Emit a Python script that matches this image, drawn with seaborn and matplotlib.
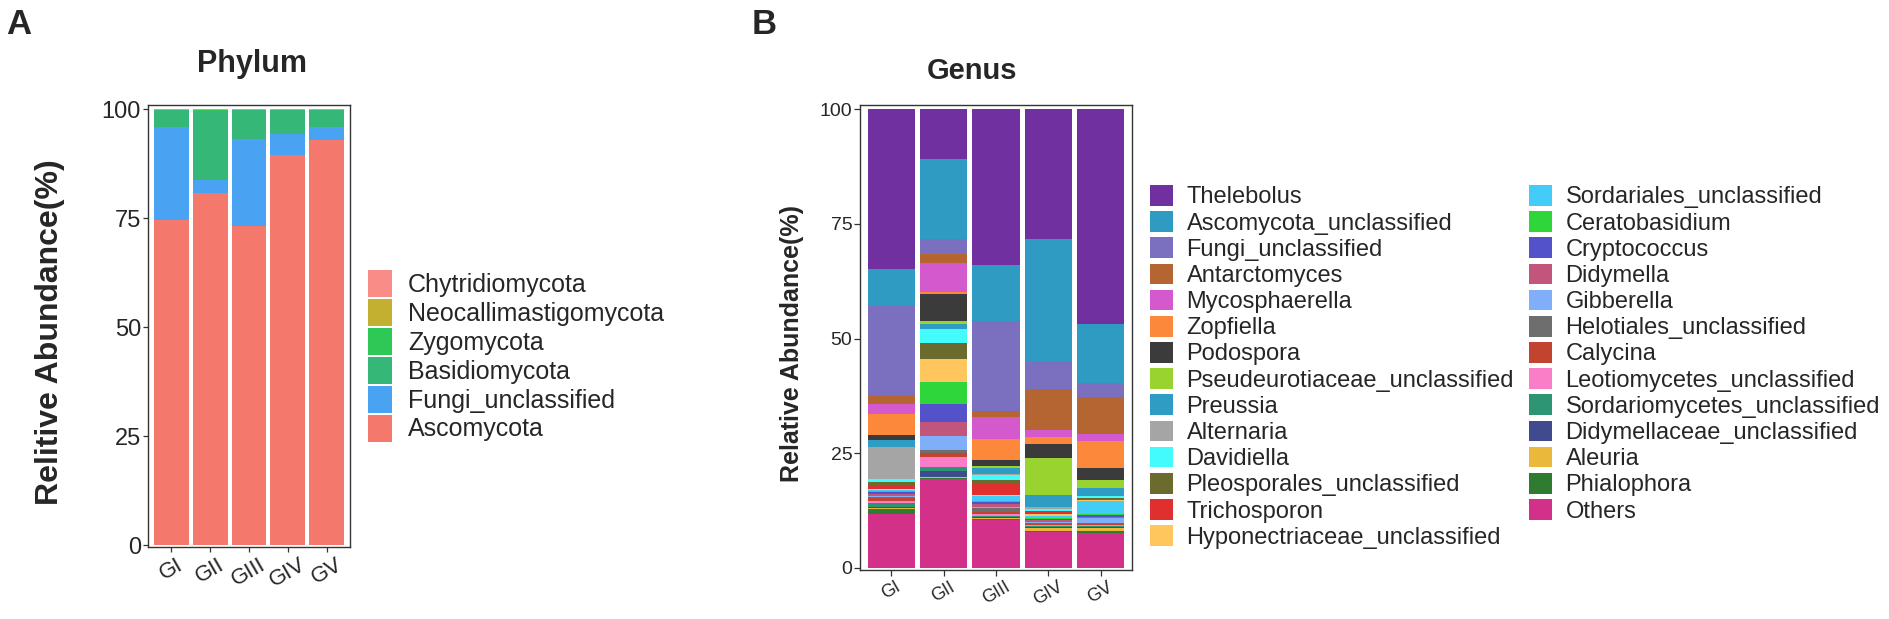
import matplotlib
matplotlib.use("Agg")
import matplotlib.pyplot as plt
import seaborn as sns
import numpy as np
import pandas as pd
from matplotlib.patches import Patch

# ---------------- data ----------------
groups = ["GI", "GII", "GIII", "GIV", "GV"]

# Phylum (legend order = stack order from the top)
phyla = ["Chytridiomycota", "Neocallimastigomycota", "Zygomycota",
         "Basidiomycota", "Fungi_unclassified", "Ascomycota"]
phylum_colors = ["#FA8C87", "#C4B030", "#2DC856", "#35B778", "#4AA3F2", "#F4786C"]
chytridiomycota = [0.05, 0.05, 0.05, 0.05, 0.05]
neocallimastigomycota = [0.05, 0.2, 0.1, 0.05, 0.05]
zygomycota = [0.1, 0.05, 0.05, 0.1, 0.1]
basidiomycota = [3.8, 15.9, 6.7, 5.4, 3.8]
fungi_unclassified_p = [21.5, 3.1, 19.9, 4.9, 3.0]
ascomycota = [74.5, 80.7, 73.2, 89.5, 93.0]

# Genus (legend order = stack order from the top)
genera = ["Thelebolus", "Ascomycota_unclassified", "Fungi_unclassified", "Antarctomyces",
          "Mycosphaerella", "Zopfiella", "Podospora", "Pseudeurotiaceae_unclassified",
          "Preussia", "Alternaria", "Davidiella", "Pleosporales_unclassified",
          "Trichosporon", "Hyponectriaceae_unclassified", "Sordariales_unclassified",
          "Ceratobasidium", "Cryptococcus", "Didymella", "Gibberella",
          "Helotiales_unclassified", "Calycina", "Leotiomycetes_unclassified",
          "Sordariomycetes_unclassified", "Didymellaceae_unclassified", "Aleuria",
          "Phialophora", "Others"]
genus_colors = ["#7030A0", "#2F9BC2", "#7B6FBF", "#B56532", "#D459CC", "#FB883B",
                "#3B3B3B", "#98D32F", "#2E9CC3", "#A5A5A5", "#44FBFB", "#6B6B2D",
                "#E02F2F", "#FFC65D", "#43CCF7", "#2FD63A", "#5352CB", "#C2557B",
                "#80AEF8", "#6E6E6E", "#C2432F", "#FA7DC8", "#2E9574", "#404A8E",
                "#EAB83B", "#2F7C30", "#D33189"]
thelebolus = [34.9, 10.9, 34.0, 28.2, 46.9]
ascomycota_unclassified = [8.0, 17.4, 12.2, 26.7, 12.7]
fungi_unclassified_g = [19.6, 3.3, 19.6, 6.0, 3.1]
antarctomyces = [1.8, 1.9, 1.3, 9.0, 8.1]
mycosphaerella = [2.2, 6.4, 4.8, 1.5, 1.5]
zopfiella = [4.6, 0.4, 4.5, 1.6, 5.9]
podospora = [1.0, 5.9, 1.4, 3.0, 2.6]
pseudeurotiaceae_unclassified = [0.1, 0.5, 0.3, 8.0, 1.8]
preussia = [1.4, 1.1, 1.4, 2.8, 1.6]
alternaria = [6.9, 0.1, 0.2, 0.3, 0.2]
davidiella = [0.8, 3.0, 1.2, 0.4, 0.3]
pleosporales_unclassified = [0.6, 3.5, 0.6, 0.3, 0.2]
trichosporon = [0.9, 0.1, 2.6, 0.4, 0.3]
hyponectriaceae_unclassified = [0.2, 4.9, 0.3, 0.5, 0.3]
sordariales_unclassified = [0.2, 0.1, 1.0, 0.5, 2.8]
ceratobasidium = [0.2, 4.7, 0.3, 0.2, 0.2]
cryptococcus = [0.4, 4.0, 0.3, 0.2, 0.3]
didymella = [0.4, 3.0, 0.6, 0.3, 0.3]
gibberella = [0.3, 3.0, 0.3, 0.3, 1.0]
helotiales_unclassified = [0.3, 0.7, 1.0, 0.2, 0.3]
calycina = [0.7, 1.0, 0.4, 0.3, 0.2]
leotiomycetes_unclassified = [0.3, 2.0, 0.3, 0.2, 0.2]
sordariomycetes_unclassified = [1.0, 1.0, 0.2, 0.2, 0.2]
didymellaceae_unclassified = [0.2, 1.3, 0.4, 0.2, 0.2]
aleuria = [0.1, 0.1, 0.1, 0.6, 0.8]
phialophora = [1.1, 0.2, 0.2, 0.2, 0.4]
others = [11.8, 19.5, 10.5, 7.9, 7.6]

phylum_df = pd.DataFrame(
    [chytridiomycota, neocallimastigomycota, zygomycota, basidiomycota,
     fungi_unclassified_p, ascomycota], index=phyla, columns=groups)
genus_df = pd.DataFrame(
    [thelebolus, ascomycota_unclassified, fungi_unclassified_g, antarctomyces,
     mycosphaerella, zopfiella, podospora, pseudeurotiaceae_unclassified, preussia,
     alternaria, davidiella, pleosporales_unclassified, trichosporon,
     hyponectriaceae_unclassified, sordariales_unclassified, ceratobasidium,
     cryptococcus, didymella, gibberella, helotiales_unclassified, calycina,
     leotiomycetes_unclassified, sordariomycetes_unclassified,
     didymellaceae_unclassified, aleuria, phialophora, others],
    index=genera, columns=groups)

# ---------------- style ----------------
sns.set_style("white")
plt.rcParams["font.family"] = ["Liberation Sans", "DejaVu Sans"]

W, H = 1890, 619
fig = plt.figure(figsize=(W / 100, H / 100), dpi=100)


def fx(px):
    return px / W


def fy(py):
    return 1 - py / H


def stacked(ax, df, colors):
    # cumulative totals drawn from the top layer down; each lower layer covers the rest
    for i, (name, color) in enumerate(zip(df.index, colors)):
        cum = df.iloc[i:].sum(axis=0)
        d = pd.DataFrame({"group": groups, "value": cum.values})
        sns.barplot(data=d, x="group", y="value", order=groups, color=color,
                    saturation=1, width=0.9, errorbar=None, ax=ax,
                    edgecolor="none", linewidth=0)
    ax.set_xlim(-0.6, 4.6)
    for s in ax.spines.values():
        s.set_visible(True)
        s.set_color("#333333")
        s.set_linewidth(1.0)
    ax.set_xlabel("")
    ax.set_ylabel("")
    ax.set_facecolor("white")
    ax.grid(False)


# ---------------- Panel A ----------------
axA = fig.add_axes([fx(148), fy(546.5), fx(350) - fx(148), fy(105) - fy(546.5)])
stacked(axA, phylum_df, phylum_colors)
axA.set_ylim(-0.34, 101.0)
axA.set_yticks([0, 25, 50, 75, 100])
axA.tick_params(axis="y", length=3.5, width=0.9, pad=1.5, labelsize=17,
                color="#333333", left=True)
axA.tick_params(axis="x", length=3.5, width=0.9, pad=2, labelsize=16,
                color="#333333", bottom=True)
axA.set_xticks(range(5))
axA.set_xticklabels(groups, rotation=30, ha="center", va="top")
fig.text(fx(50), fy(332), "Relitive Abundance(%)", rotation=90, ha="center",
         va="center", fontsize=23, fontweight="bold")
fig.text(fx(252), fy(72), "Phylum", ha="center", va="baseline", fontsize=22,
         fontweight="bold")
fig.text(fx(6), fy(34), "A", ha="left", va="baseline", fontsize=25,
         fontweight="bold")

handlesA = [Patch(facecolor=c, edgecolor="none", label=n)
            for n, c in zip(phyla, phylum_colors)]
fsA = 18
fsA_px = fsA / 0.72
fig.legend(handles=handlesA, loc="upper left",
           bbox_to_anchor=(fx(368), fy(270)), frameon=False, fontsize=fsA,
           borderpad=0, borderaxespad=0, handlelength=24 / fsA_px,
           handleheight=32 / fsA_px, labelspacing=2 / fsA_px,
           handletextpad=16 / fsA_px)

# ---------------- Panel B ----------------
axB = fig.add_axes([fx(860), fy(570), fx(1132) - fx(860), fy(105) - fy(570)])
stacked(axB, genus_df, genus_colors)
axB.set_ylim(-0.44, 100.94)
axB.set_yticks([0, 25, 50, 75, 100])
axB.tick_params(axis="y", length=4, width=0.9, pad=1.5, labelsize=14,
                color="#333333", left=True)
axB.tick_params(axis="x", length=4, width=0.9, pad=2, labelsize=13,
                color="#333333", bottom=True)
axB.set_xticks(range(5))
axB.set_xticklabels(groups, rotation=30, ha="center", va="top")
fig.text(fx(792), fy(344), "Relative Abundance(%)", rotation=90, ha="center",
         va="center", fontsize=18, fontweight="bold")
fig.text(fx(972), fy(79), "Genus", ha="center", va="baseline", fontsize=21,
         fontweight="bold")
fig.text(fx(752), fy(34), "B", ha="left", va="baseline", fontsize=25,
         fontweight="bold")

handlesB = [Patch(facecolor=c, edgecolor="none", label=n)
            for n, c in zip(genera, genus_colors)]
fsB = 17
fsB_px = fsB / 0.72
fig.legend(handles=handlesB, loc="upper left", ncol=2,
           bbox_to_anchor=(fx(1150), fy(185)), frameon=False, fontsize=fsB,
           borderpad=0, borderaxespad=0, handlelength=23 / fsB_px,
           handleheight=23 / fsB_px, labelspacing=2.7 / fsB_px,
           handletextpad=13.5 / fsB_px, columnspacing=15 / fsB_px)

fig.savefig("out.png", dpi=100, facecolor="white")
